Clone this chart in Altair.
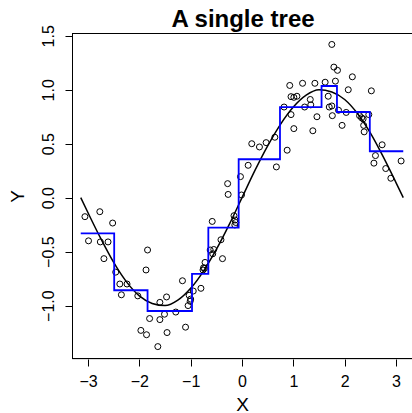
import altair as alt
import pandas as pd

# observed points
pt_x = [-3.06, -2.77, -2.52, -2.99, -2.76, -2.61, -2.69, -2.46, -2.38, -2.24,
        -2.35, -2.03, -1.84, -1.87, -1.97, -1.86, -1.80, -1.64, -1.60, -1.60,
        -1.51, -1.47, -1.46, -1.29, -1.16, -1.10, -1.05, -1.03, -1.01, -1.00,
        -0.95, -0.80, -0.76, -0.73, -0.72, -0.75, -0.58, -0.62, -0.57, -0.55,
        -0.41, -0.38, -0.28, -0.27, -0.01, -0.156, -0.136, -0.12, -0.14, 0.19,
        0.34, 0.47, 0.64, 0.88, 0.12, 0.67, -0.03, 1.75, 1.79, 1.86,
        2.15, 1.82, 0.93, 1.18, 1.42, 1.62, 2.07, 2.52, 0.955, 1.01,
        1.07, 1.33, 1.68, 0.82, 1.22, 1.34, 1.70, 1.75, 1.88, 2.03,
        1.76, 0.955, 1.46, 2.29, 2.33, 2.36, 2.37, 2.38, 2.47, 1.95,
        1.01, 1.38, 2.73, 2.60, 2.57, 2.80, 2.90, 3.10]
pt_y = [-0.176, -0.13, -0.235, -0.40, -0.41, -0.41, -0.565, -0.69, -0.80, -0.80,
        -0.90, -0.91, -0.485, -0.67, -1.23, -1.27, -1.12, -1.38, -0.97, -1.13,
        -1.08, -0.92, -1.25, -1.06, -0.77, -1.20, -1.00, -0.905, -0.96, -0.94,
        -0.865, -0.84, -0.67, -0.655, -0.60, -0.65, -0.22, -0.485, -0.52, -0.48,
        -0.39, -0.565, 0.13, 0.03, 0.025, -0.167, -0.207, -0.23, -0.253, 0.50,
        0.47, 0.51, 0.56, 0.44, 0.30, 0.285, 0.195, 1.42, 1.21, 1.18,
        1.12, 1.08, 1.04, 1.06, 1.06, 1.07, 1.00, 0.99, 0.936, 0.93,
        0.94, 0.91, 0.94, 0.84, 0.84, 0.86, 0.84, 0.85, 0.81, 0.79,
        0.76, 0.77, 0.75, 0.76, 0.74, 0.73, 0.67, 0.61, 0.77, 0.67,
        0.64, 0.62, 0.49, 0.39, 0.32, 0.27, 0.18, 0.34]

# black smooth curve
curve_x = [-3.1416, -3.0, -2.75, -2.5, -2.25, -2.0, -1.75, -1.5, -1.25, -1.0,
           -0.75, -0.5, -0.25, 0.0, 0.25, 0.5, 0.75, 1.0, 1.25, 1.5,
           1.75, 2.0, 2.25, 2.5, 2.75, 3.0, 3.1416]
curve_y = [0.0, -0.14, -0.38, -0.60, -0.78, -0.91, -0.98, -1.0, -0.95, -0.84,
           -0.68, -0.48, -0.25, 0.0, 0.25, 0.48, 0.68, 0.84, 0.95, 1.0,
           0.98, 0.91, 0.78, 0.60, 0.38, 0.14, 0.0]

# blue step function (tree prediction)
step_x = [-3.1416, -2.49, -1.84, -0.974, -0.656, -0.065, 0.74, 1.55, 1.85, 2.49, 3.1416]
step_y = [-0.33, -0.858, -1.05, -0.707, -0.278, 0.356, 0.84, 1.035, 0.794, 0.43, 0.43]

x_ticks = [-3, -2, -1, 0, 1, 2, 3]
y_ticks = [-1.0, -0.5, 0.0, 0.5, 1.0, 1.5]
title_text = ["A single tree"]

pts = pd.DataFrame({"x": pt_x, "y": pt_y})
curve = pd.DataFrame({"x": curve_x, "y": curve_y})
steps = pd.DataFrame({"x": step_x, "y": step_y})
title_df = pd.DataFrame({"t": title_text})

FONT = "Liberation Sans"
W, H = 340, 326
xscale = alt.Scale(domain=[-3.312, 3.312], nice=False, zero=False)
yscale = alt.Scale(domain=[-1.495, 1.526], nice=False, zero=False)

xaxis = alt.Axis(values=x_ticks, title="X", grid=False, domain=False,
                 tickSize=7, tickColor="black", tickWidth=1,
                 labelFont=FONT, labelFontSize=16, labelColor="black",
                 labelBaseline="alphabetic", labelPadding=20,
                 labelExpr="replace(datum.label, '-', '\u2212')",
                 titleFont=FONT, titleFontSize=19, titleFontWeight="normal",
                 titleColor="black", titleBaseline="alphabetic",
                 titleX=170, titleY=51, labelFlush=False, labelOverlap=False)
yaxis = alt.Axis(values=y_ticks, title="Y", grid=False, domain=False, format=".1f",
                 tickSize=7, tickColor="black", tickWidth=1,
                 labelFont=FONT, labelFontSize=16, labelColor="black",
                 labelAngle=270, labelAlign="center", labelBaseline="alphabetic",
                 labelPadding=12,
                 labelExpr="replace(datum.label, '-', '\u2212')",
                 titleFont=FONT, titleFontSize=19, titleFontWeight="normal",
                 titleColor="black", titleAngle=270, titleAlign="center",
                 titleBaseline="alphabetic", titleX=-49, titleY=163,
                 labelFlush=False, labelOverlap=False)

points = alt.Chart(pts).mark_point(shape="circle", filled=False, color="black",
                                   size=36, strokeWidth=1, opacity=1).encode(
    x=alt.X("x:Q", scale=xscale, axis=xaxis),
    y=alt.Y("y:Q", scale=yscale, axis=yaxis),
)
line = alt.Chart(curve).mark_line(color="black", strokeWidth=1.5,
                                  interpolate="monotone").encode(
    x=alt.X("x:Q", scale=xscale), y=alt.Y("y:Q", scale=yscale))
tree = alt.Chart(steps).mark_line(color="#0000ff", strokeWidth=1.8,
                                  interpolate="step-after").encode(
    x=alt.X("x:Q", scale=xscale), y=alt.Y("y:Q", scale=yscale))
title = alt.Chart(title_df).mark_text(font=FONT, fontSize=24, fontWeight="bold",
                                      color="black", align="center",
                                      baseline="alphabetic", clip=False).encode(
    x=alt.value(171), y=alt.value(-6), text="t:N")
# plot frame (box around the plotting region)
frame_top = alt.Chart(title_df).mark_rule(color="black", strokeWidth=1).encode(
    x=alt.value(0), x2=alt.value(W), y=alt.value(0.5))
frame_left = alt.Chart(title_df).mark_rule(color="black", strokeWidth=1).encode(
    x=alt.value(0.5), y=alt.value(0), y2=alt.value(H))
frame_bottom = alt.Chart(title_df).mark_rule(color="black", strokeWidth=1).encode(
    x=alt.value(0), x2=alt.value(W), y=alt.value(H - 0.5))

chart = alt.layer(points, line, tree, title, frame_top, frame_left, frame_bottom).properties(
    width=W, height=H,
    autosize=alt.AutoSizeParams(type="none"),
    padding={"left": 72, "top": 33, "right": 0, "bottom": 54},
).configure_view(stroke="black", strokeWidth=1).configure(background="white")

chart.save("out.html", embed_options={"renderer": "svg", "actions": False})
